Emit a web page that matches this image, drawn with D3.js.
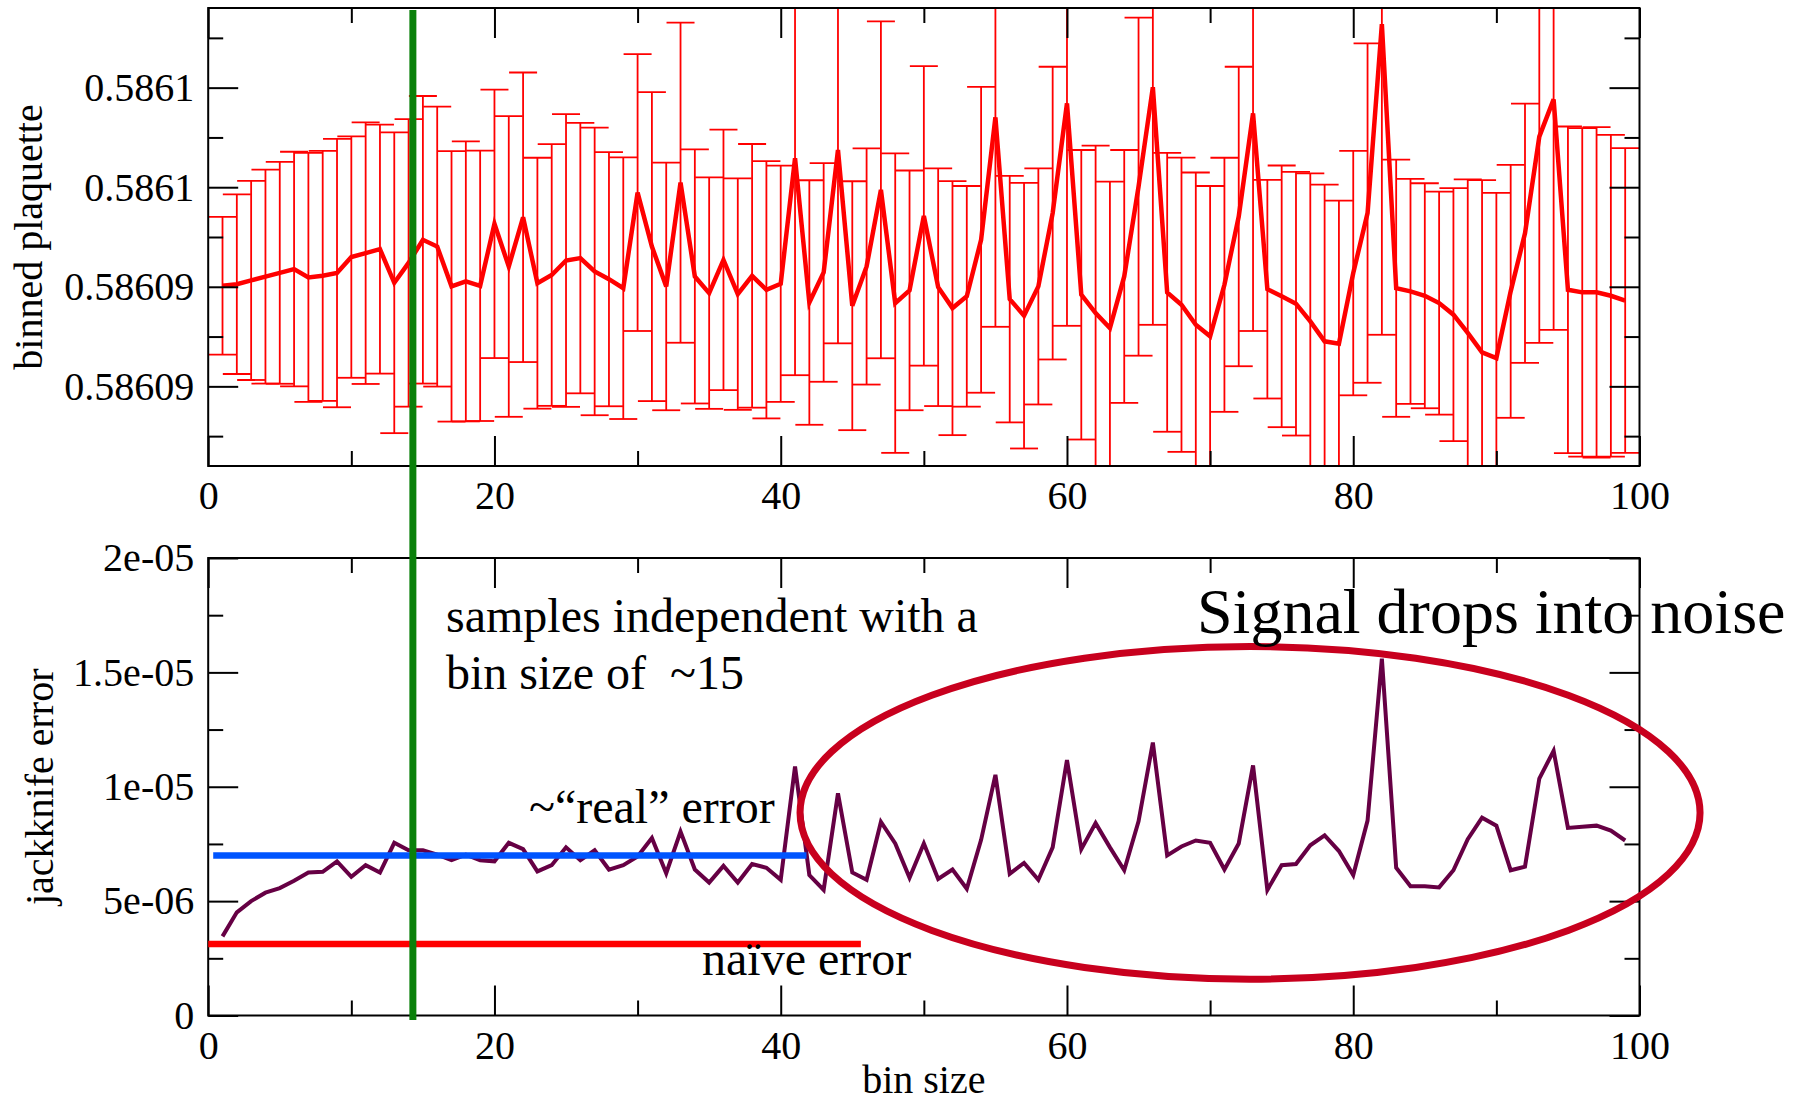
<!DOCTYPE html>
<html>
<head>
<meta charset="utf-8">
<script src="https://cdn.jsdelivr.net/npm/d3@7"></script>
<style>
  html, body { margin: 0; padding: 0; background: #fff; }
  svg { display: block; }
  text { font-family: "Liberation Serif", "Times New Roman", serif; fill: #000; }
</style>
</head>
<body>
<svg id="chart" width="1804" height="1103"></svg>
<script>
// ---------------- data ----------------
const binSizes = [1,2,3,4,5,6,7,8,9,10,11,12,13,14,15,16,17,18,19,20,21,22,23,24,25,26,27,28,29,30,
  31,32,33,34,35,36,37,38,39,40,41,42,43,44,45,46,47,48,49,50,51,52,53,54,55,56,57,58,59,60,
  61,62,63,64,65,66,67,68,69,70,71,72,73,74,75,76,77,78,79,80,81,82,83,84,85,86,87,88,89,90,
  91,92,93,94,95,96,97,98,99];

// binned plaquette mean
const plaquette = [
  0.58609505,0.58609513,0.58609532,0.58609551,0.58609570,0.58609589,0.58609547,0.58609555,0.58609569,0.58609649,
  0.58609669,0.58609689,0.58609520,0.58609620,0.58609736,0.58609702,0.58609502,0.58609527,0.58609505,0.58609816,
  0.58609602,0.58609849,0.58609518,0.58609559,0.58609632,0.58609644,0.58609577,0.58609538,0.58609493,0.58609973,
  0.58609702,0.58609502,0.58610023,0.58609552,0.58609468,0.58609635,0.58609463,0.58609555,0.58609485,0.58609515,
  0.58610145,0.58609421,0.58609572,0.58610187,0.58609405,0.58609602,0.58609987,0.58609418,0.58609482,0.58609856,
  0.58609498,0.58609393,0.58609452,0.58609736,0.58610351,0.58609438,0.58609355,0.58609502,0.58609870,0.58610421,
  0.58609460,0.58609368,0.58609293,0.58609552,0.58610003,0.58610502,0.58609472,0.58609410,0.58609309,0.58609251,
  0.58609510,0.58609853,0.58610371,0.58609488,0.58609452,0.58609415,0.58609326,0.58609226,0.58609214,0.58609569,
  0.58609870,0.58610819,0.58609493,0.58609477,0.58609455,0.58609418,0.58609360,0.58609268,0.58609171,0.58609142,
  0.58609477,0.58609769,0.58610254,0.58610441,0.58609485,0.58609472,0.58609472,0.58609455,0.58609431];

// jackknife error (also the error bars of the upper panel)
const jackknife = [
  3.46e-6,4.51e-6,5.00e-6,5.37e-6,5.57e-6,5.89e-6,6.25e-6,6.28e-6,6.74e-6,6.06e-6,
  6.57e-6,6.25e-6,7.55e-6,7.22e-6,7.22e-6,7.03e-6,6.79e-6,7.03e-6,6.79e-6,6.74e-6,
  7.55e-6,7.27e-6,6.30e-6,6.57e-6,7.35e-6,6.79e-6,7.22e-6,6.38e-6,6.57e-6,6.95e-6,
  7.76e-6,6.22e-6,8.04e-6,6.38e-6,5.81e-6,6.54e-6,5.81e-6,6.62e-6,6.46e-6,5.93e-6,
  10.89e-6,6.14e-6,5.49e-6,9.71e-6,6.25e-6,5.93e-6,8.46e-6,7.52e-6,6.02e-6,7.52e-6,
  5.97e-6,6.38e-6,5.54e-6,7.68e-6,10.52e-6,6.19e-6,6.67e-6,5.93e-6,7.35e-6,11.17e-6,
  7.27e-6,8.41e-6,7.35e-6,6.35e-6,8.49e-6,11.93e-6,7.00e-6,7.39e-6,7.65e-6,7.55e-6,
  6.38e-6,7.52e-6,10.93e-6,5.49e-6,6.57e-6,6.62e-6,7.44e-6,7.87e-6,7.19e-6,6.14e-6,
  8.52e-6,15.60e-6,6.46e-6,5.65e-6,5.65e-6,5.60e-6,6.35e-6,7.71e-6,8.65e-6,8.30e-6,
  6.35e-6,6.51e-6,10.36e-6,11.57e-6,8.20e-6,8.25e-6,8.30e-6,8.08e-6,7.65e-6];

const xTicks = [0, 20, 40, 60, 80, 100];
const xTickLabels = ["0", "20", "40", "60", "80", "100"];
const xMinorTicks = [10, 30, 50, 70, 90];

const topYTicks = [0.58609, 0.586095, 0.5861, 0.586105];
const topYTickLabels = ["0.58609", "0.58609", "0.5861", "0.5861"];
const topYMinorTicks = [0.5860875, 0.5860925, 0.5860975, 0.5861025, 0.5861075];

const botYTicks = [0, 5e-6, 1e-5, 1.5e-5, 2e-5];
const botYTickLabels = ["0", "5e-06", "1e-05", "1.5e-05", "2e-05"];
const botYMinorTicks = [2.5e-6, 7.5e-6, 1.25e-5, 1.75e-5];

// annotation values (data units)
const realError = { value: 7.0e-6, from: 0.35, to: 41.8 };
const naiveError = { value: 3.13e-6, from: 0.0, to: 45.6 };
const independentBin = 14.3;
const noiseEllipse = { cx: 72.79, cy: 8.86e-6, rx: 31.44, ry: 7.27e-6 };

// ---------------- layout ----------------
const svg = d3.select("#chart");
svg.append("rect").attr("width", 1804).attr("height", 1103).attr("fill", "#fff");

const X0 = 208.2, X1 = 1639.5;
const TOP = { y0: 8, y1: 466 };
const BOT = { y0: 558, y1: 1015.5 };

const x = d3.scaleLinear().domain([0, 100]).range([X0, X1]);
const yTop = d3.scaleLinear().domain([0.586086, 0.586109]).range([TOP.y1, TOP.y0]);
const yBot = d3.scaleLinear().domain([0, 2e-5]).range([BOT.y1, BOT.y0]);

const FONT = 40;

function drawFrame(panel, yScale, yT, yL, yMinor, showXLabels) {
  const g = svg.append("g");
  const h = panel.y1 - panel.y0;
  const w = X1 - X0;
  g.append("g").attr("transform", `translate(0,${panel.y1})`)
    .call(d3.axisBottom(x).tickValues(xTicks).tickSize(-30).tickPadding(15)
      .tickFormat((d, i) => showXLabels ? xTickLabels[i] : ""));
  g.append("g").attr("transform", `translate(0,${panel.y1})`)
    .call(d3.axisBottom(x).tickValues(xMinorTicks).tickSize(-15).tickFormat(""));
  g.append("g").attr("transform", `translate(0,${panel.y0})`)
    .call(d3.axisTop(x).tickValues(xTicks).tickSize(-30).tickFormat(""));
  g.append("g").attr("transform", `translate(0,${panel.y0})`)
    .call(d3.axisTop(x).tickValues(xMinorTicks).tickSize(-15).tickFormat(""));
  g.append("g").attr("transform", `translate(${X0},0)`)
    .call(d3.axisLeft(yScale).tickValues(yT).tickSize(-30).tickPadding(14)
      .tickFormat((d, i) => yL[i]));
  g.append("g").attr("transform", `translate(${X0},0)`)
    .call(d3.axisLeft(yScale).tickValues(yMinor).tickSize(-15).tickFormat(""));
  g.append("g").attr("transform", `translate(${X1},0)`)
    .call(d3.axisRight(yScale).tickValues(yT).tickSize(-30).tickFormat(""));
  g.append("g").attr("transform", `translate(${X1},0)`)
    .call(d3.axisRight(yScale).tickValues(yMinor).tickSize(-15).tickFormat(""));
  g.selectAll(".domain").remove();
  g.selectAll(".tick line").attr("stroke", "#000").attr("stroke-width", 2);
  g.selectAll(".tick text")
    .style("font-family", '"Liberation Serif", "Times New Roman", serif')
    .style("font-size", FONT + "px").attr("fill", "#000");
  g.append("rect").attr("x", X0).attr("y", panel.y0).attr("width", w).attr("height", h)
    .attr("fill", "none").attr("stroke", "#000").attr("stroke-width", 2);
  return g;
}

// ---------------- top panel ----------------
const defs = svg.append("defs");
defs.append("clipPath").attr("id", "clipTop").append("rect")
  .attr("x", X0).attr("y", TOP.y0).attr("width", X1 - X0).attr("height", TOP.y1 - TOP.y0);

const topData = binSizes.map((b, i) => ({ b, m: plaquette[i], e: jackknife[i] }));
const topG = svg.append("g").attr("clip-path", "url(#clipTop)");
const CAP = 14;
const eb = topG.append("g").attr("stroke", "#ff0000").attr("stroke-width", 1.8).attr("fill", "none");
eb.selectAll("line.v").data(topData).join("line").attr("class", "v")
  .attr("x1", d => x(d.b)).attr("x2", d => x(d.b))
  .attr("y1", d => yTop(d.m + d.e)).attr("y2", d => yTop(d.m - d.e));
eb.selectAll("line.cu").data(topData).join("line").attr("class", "cu")
  .attr("x1", d => x(d.b) - CAP).attr("x2", d => x(d.b) + CAP)
  .attr("y1", d => yTop(d.m + d.e)).attr("y2", d => yTop(d.m + d.e));
eb.selectAll("line.cl").data(topData).join("line").attr("class", "cl")
  .attr("x1", d => x(d.b) - CAP).attr("x2", d => x(d.b) + CAP)
  .attr("y1", d => yTop(d.m - d.e)).attr("y2", d => yTop(d.m - d.e));
topG.append("path").datum(topData)
  .attr("fill", "none").attr("stroke", "#ff0000").attr("stroke-width", 4.5)
  .attr("stroke-linejoin", "miter")
  .attr("d", d3.line().x(d => x(d.b)).y(d => yTop(d.m)));

drawFrame(TOP, yTop, topYTicks, topYTickLabels, topYMinorTicks, true);

// ---------------- bottom panel ----------------
const botData = binSizes.map((b, i) => ({ b, e: jackknife[i] }));
svg.append("path").datum(botData)
  .attr("fill", "none").attr("stroke", "#660044").attr("stroke-width", 4)
  .attr("d", d3.line().x(d => x(d.b)).y(d => yBot(d.e)));

drawFrame(BOT, yBot, botYTicks, botYTickLabels, botYMinorTicks, true);

// ---------------- annotations ----------------
svg.append("line")
  .attr("x1", x(realError.from)).attr("x2", x(realError.to))
  .attr("y1", yBot(realError.value)).attr("y2", yBot(realError.value))
  .attr("stroke", "#0055ff").attr("stroke-width", 6.5);
svg.append("line")
  .attr("x1", x(naiveError.from)).attr("x2", x(naiveError.to))
  .attr("y1", yBot(naiveError.value)).attr("y2", yBot(naiveError.value))
  .attr("stroke", "#ff0000").attr("stroke-width", 6.5);
svg.append("ellipse")
  .attr("cx", x(noiseEllipse.cx)).attr("cy", yBot(noiseEllipse.cy))
  .attr("rx", x(noiseEllipse.cx + noiseEllipse.rx) - x(noiseEllipse.cx))
  .attr("ry", yBot(noiseEllipse.cy - noiseEllipse.ry) - yBot(noiseEllipse.cy))
  .attr("fill", "none").attr("stroke", "#c8001e").attr("stroke-width", 7);
svg.append("line")
  .attr("x1", x(independentBin)).attr("x2", x(independentBin))
  .attr("y1", 10).attr("y2", 1020)
  .attr("stroke", "#0a800a").attr("stroke-width", 7);

// texts
function txt(s, px, py, size, anchor, rot) {
  const t = svg.append("text").text(s)
    .attr("font-size", size).attr("text-anchor", anchor || "start")
    .style("white-space", "pre");
  if (rot) t.attr("transform", `translate(${px},${py}) rotate(${rot})`);
  else t.attr("x", px).attr("y", py);
  return t;
}
txt("samples independent with a", 446, 631.5, 48);
txt("bin size of  ~15", 446, 689, 48);
txt("~\u201Creal\u201D error", 529, 823, 48);
txt("na\u00EFve error", 702, 975, 48);
txt("Signal drops into noise", 1197, 633, 64);
txt("bin size", (X0 + X1) / 2, 1093, FONT, "middle");
txt("binned plaquette", 42, (TOP.y0 + TOP.y1) / 2, FONT, "middle", -90);
txt("jackknife error", 53, (BOT.y0 + BOT.y1) / 2, FONT, "middle", -90);
</script>
</body>
</html>
